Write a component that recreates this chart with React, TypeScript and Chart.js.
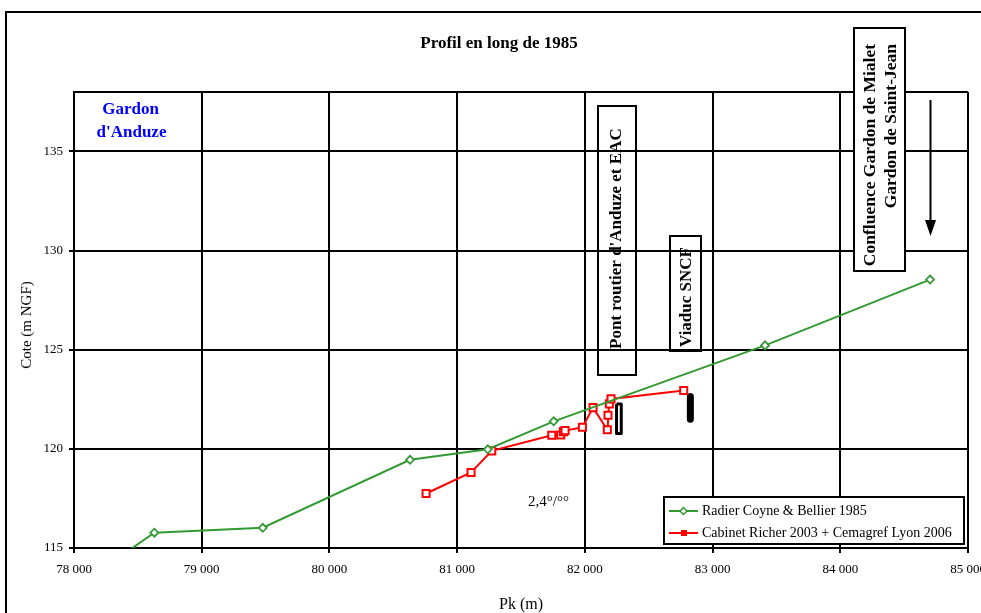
import React, { useEffect, useRef } from 'react';
import { Chart, registerables } from 'chart.js';

Chart.register(...registerables);

// Radier Coyne & Bellier 1985 (Pk in m, cote in m NGF)
const pkRadier = [78300, 78629, 79478, 80631, 81240, 81756, 83411, 84703];
const coteRadier = [114.3, 115.77, 116.02, 119.45, 119.98, 121.39, 125.22, 128.54];

// Cabinet Richer 2003 + Cemagref Lyon 2006
const pkRicher = [80757, 81109, 81271, 81741, 81811, 81832, 81845, 81981, 82064, 82176, 82181, 82192, 82205, 82774];
const coteRicher = [117.75, 118.81, 119.9, 120.69, 120.7, 120.87, 120.92, 121.09, 122.08, 120.96, 121.7, 122.27, 122.52, 122.94];

// Bridge piers (outline of the Anduze road bridge pier, SNCF viaduct pier)
const pierBridgePk = [82248, 82285, 82285, 82248, 82248];
const pierBridgeCote = [122.26, 122.26, 120.78, 120.78, 122.26];
const pierViaductPk = [82826, 82826];
const pierViaductCote = [122.64, 121.49];

// Axis ticks
const pkTicks = [78000, 79000, 80000, 81000, 82000, 83000, 84000, 85000];
const coteTicks = [115, 120, 125, 130, 135];
const pkMin = 78000;
const pkMax = 85000;
const coteMin = 115;
const coteMax = 138;

const seriesNames = ['Radier Coyne & Bellier 1985', 'Cabinet Richer 2003 + Cemagref Lyon 2006'];
const GREEN = '#339933';
const RED = '#ff0000';
const SERIF = '"Liberation Serif", "Times New Roman", serif';

const toPoints = (xs: number[], ys: number[]) => xs.map((x, i) => ({ x, y: ys[i] }));

const formatPk = (v: number) => `${Math.round(v / 1000)} 000`;

function drawRotated(
  ctx: CanvasRenderingContext2D,
  text: string,
  x: number,
  y: number,
  align: CanvasTextAlign,
  baseline: CanvasTextBaseline
) {
  ctx.save();
  ctx.translate(x, y);
  ctx.rotate(-Math.PI / 2);
  ctx.textAlign = align;
  ctx.textBaseline = baseline;
  ctx.fillText(text, 0, 0);
  ctx.restore();
}

const decorations = {
  id: 'profilDecorations',
  afterDraw(chart: Chart) {
    const { ctx, chartArea } = chart;
    ctx.save();

    // top edge of the plot frame
    ctx.strokeStyle = '#000';
    ctx.lineWidth = 2;
    ctx.beginPath();
    ctx.moveTo(chartArea.left, chartArea.top);
    ctx.lineTo(chartArea.right, chartArea.top);
    ctx.stroke();

    // outer frame
    ctx.strokeRect(6, 12, 1200, 800);

    // title
    ctx.fillStyle = '#000';
    ctx.font = `bold 17px ${SERIF}`;
    ctx.textAlign = 'center';
    ctx.textBaseline = 'middle';
    ctx.fillText('Profil en long de 1985', 499, 44);

    // axis titles
    ctx.font = `15px ${SERIF}`;
    drawRotated(ctx, 'Cote (m NGF)', 27, 325, 'center', 'middle');
    ctx.font = `16px ${SERIF}`;
    ctx.textAlign = 'center';
    ctx.fillText('Pk (m)', 521, 605);

    // slope label
    ctx.font = `15px ${SERIF}`;
    ctx.textAlign = 'left';
    ctx.fillText('2,4°/°°', 528, 502);

    // river name
    ctx.fillStyle = '#0000ff';
    ctx.font = `bold 17px ${SERIF}`;
    ctx.textAlign = 'center';
    ctx.fillText('Gardon', 130.5, 110);
    ctx.fillText("d'Anduze", 131.5, 133);

    // structure labels
    ctx.fillStyle = '#000';
    ctx.strokeStyle = '#000';
    ctx.lineWidth = 2;
    ctx.strokeRect(598, 106, 38, 269);
    ctx.font = `bold 17px ${SERIF}`;
    drawRotated(ctx, "Pont routier d'Anduze et EAC", 621, 349, 'left', 'alphabetic');

    ctx.strokeRect(670, 236, 31, 115);
    drawRotated(ctx, 'Viaduc SNCF', 691, 347, 'left', 'alphabetic');

    ctx.fillStyle = '#fff';
    ctx.fillRect(854, 28, 51, 243);
    ctx.strokeRect(854, 28, 51, 243);
    ctx.fillStyle = '#000';
    ctx.font = `bold 17.5px ${SERIF}`;
    drawRotated(ctx, 'Confluence Gardon de Mialet', 875, 44, 'right', 'alphabetic');
    drawRotated(ctx, 'Gardon de Saint-Jean', 896, 44, 'right', 'alphabetic');

    // flow direction arrow
    ctx.beginPath();
    ctx.moveTo(930.5, 100);
    ctx.lineTo(930.5, 222);
    ctx.stroke();
    ctx.beginPath();
    ctx.moveTo(925, 220);
    ctx.lineTo(936, 220);
    ctx.lineTo(930.5, 236);
    ctx.closePath();
    ctx.fill();

    // legend
    const lx = 664;
    const ly = 497;
    ctx.fillStyle = '#fff';
    ctx.fillRect(lx, ly, 300, 47);
    ctx.strokeStyle = '#000';
    ctx.lineWidth = 2;
    ctx.strokeRect(lx, ly, 300, 47);

    const rows = [511, 533];
    ctx.lineWidth = 2;
    // green row
    ctx.strokeStyle = GREEN;
    ctx.beginPath();
    ctx.moveTo(669, rows[0]);
    ctx.lineTo(698, rows[0]);
    ctx.stroke();
    ctx.fillStyle = '#fff';
    ctx.lineWidth = 1.5;
    ctx.beginPath();
    ctx.moveTo(683.5, rows[0] - 3.5);
    ctx.lineTo(687, rows[0]);
    ctx.lineTo(683.5, rows[0] + 3.5);
    ctx.lineTo(680, rows[0]);
    ctx.closePath();
    ctx.fill();
    ctx.stroke();
    // red row
    ctx.lineWidth = 2;
    ctx.strokeStyle = RED;
    ctx.beginPath();
    ctx.moveTo(669, rows[1]);
    ctx.lineTo(698, rows[1]);
    ctx.stroke();
    ctx.fillStyle = RED;
    ctx.fillRect(681, rows[1] - 3, 6, 6);

    ctx.fillStyle = '#000';
    ctx.font = `14px ${SERIF}`;
    ctx.textAlign = 'left';
    ctx.textBaseline = 'middle';
    ctx.fillText(seriesNames[0], 702, rows[0]);
    ctx.fillText(seriesNames[1], 702, rows[1]);

    ctx.restore();
  },
};

export default function App() {
  const canvasRef = useRef<HTMLCanvasElement | null>(null);

  useEffect(() => {
    if (!canvasRef.current) return;
    const tickFont = { family: SERIF, size: 13 };
    const chart = new Chart(canvasRef.current, {
      type: 'line',
      data: {
        datasets: [
          {
            label: seriesNames[0],
            data: toPoints(pkRadier, coteRadier),
            borderColor: GREEN,
            borderWidth: 2,
            pointStyle: 'rectRot',
            pointRadius: 4,
            pointBorderWidth: 1.8,
            pointBorderColor: GREEN,
            pointBackgroundColor: '#fff',
            fill: false,
            tension: 0,
          },
          {
            label: seriesNames[1],
            data: toPoints(pkRicher, coteRicher),
            borderColor: RED,
            borderWidth: 2,
            pointStyle: 'rect',
            pointRadius: 5,
            pointBorderWidth: 2,
            pointBorderColor: RED,
            pointBackgroundColor: '#fff',
            fill: false,
            tension: 0,
          },
          {
            label: 'Pile pont routier',
            data: toPoints(pierBridgePk, pierBridgeCote),
            borderColor: '#000',
            borderWidth: 3,
            borderJoinStyle: 'round',
            pointRadius: 0,
            fill: false,
          },
          {
            label: 'Pile viaduc',
            data: toPoints(pierViaductPk, pierViaductCote),
            borderColor: '#000',
            borderWidth: 7,
            borderCapStyle: 'round',
            pointRadius: 0,
            fill: false,
          },
        ],
      },
      options: {
        responsive: false,
        animation: false,
        devicePixelRatio: 1,
        events: [],
        layout: { padding: { top: 92, right: 13, left: 0, bottom: 0 } },
        plugins: {
          legend: { display: false },
          title: { display: false },
          tooltip: { enabled: false },
        },
        scales: {
          x: {
            type: 'linear',
            min: pkMin,
            max: pkMax,
            afterBuildTicks: (scale: any) => {
              scale.ticks = pkTicks.map((value) => ({ value }));
            },
            afterFit: (scale: any) => {
              scale.height = 65;
              scale.paddingLeft = 0;
              scale.paddingRight = 0;
            },
            ticks: {
              callback: (v: any) => formatPk(Number(v)),
              color: '#000',
              font: tickFont,
              padding: 9,
              maxRotation: 0,
              autoSkip: false,
            },
            grid: { color: '#000', lineWidth: 2, tickLength: 5, drawTicks: true },
            border: { color: '#000', width: 2 },
          },
          y: {
            type: 'linear',
            min: coteMin,
            max: coteMax,
            afterBuildTicks: (scale: any) => {
              scale.ticks = coteTicks.map((value) => ({ value }));
            },
            afterFit: (scale: any) => {
              scale.width = 74;
              scale.paddingTop = 0;
              scale.paddingBottom = 0;
            },
            ticks: {
              callback: (v: any) => String(v),
              color: '#000',
              font: tickFont,
              padding: 6,
              autoSkip: false,
            },
            grid: { color: '#000', lineWidth: 2, tickLength: 5, drawTicks: true },
            border: { color: '#000', width: 2 },
          },
        },
      },
      plugins: [decorations],
    });
    return () => chart.destroy();
  }, []);

  return (
    <div
      style={{
        position: 'fixed',
        left: 0,
        top: 0,
        width: 981,
        height: 613,
        background: '#fff',
        overflow: 'hidden',
      }}
    >
      <canvas ref={canvasRef} width={981} height={613} style={{ display: 'block' }} />
    </div>
  );
}
